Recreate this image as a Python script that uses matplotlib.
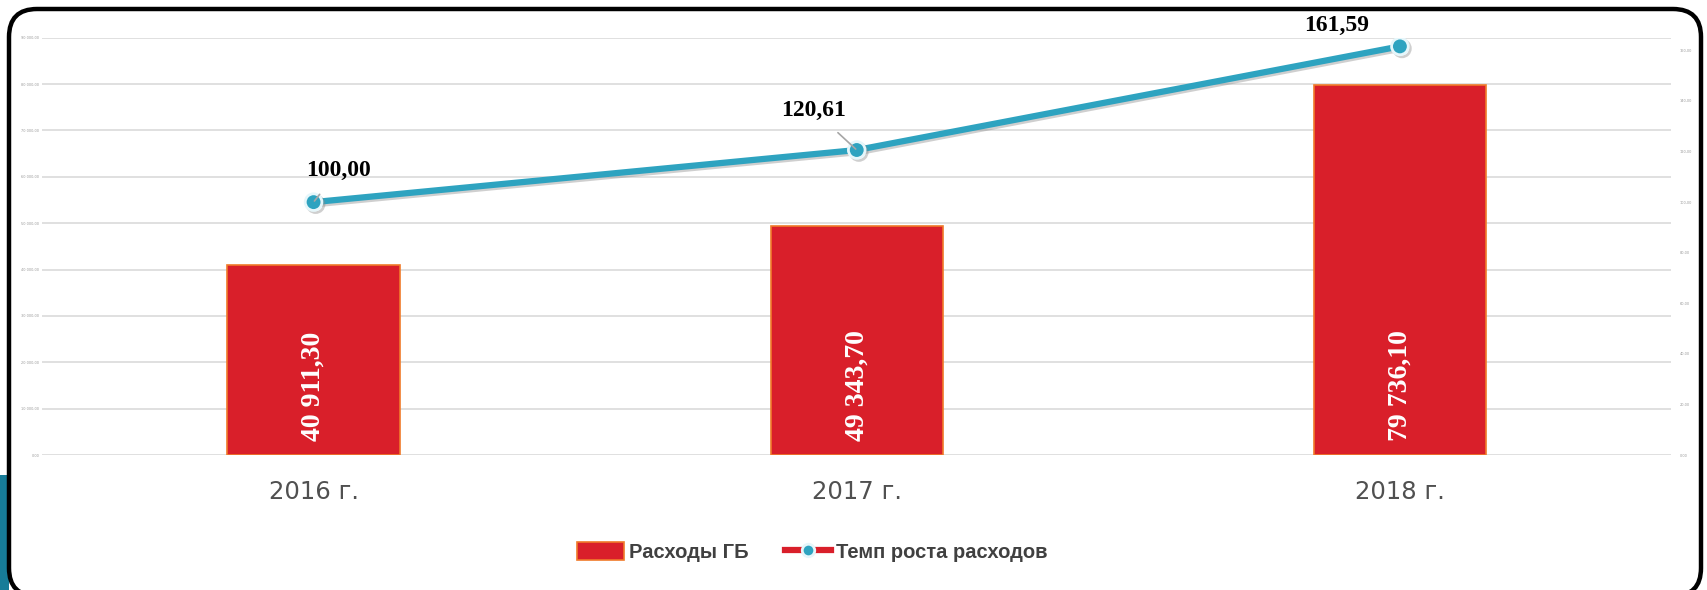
import numpy as np
import matplotlib
matplotlib.use("Agg")
import matplotlib.pyplot as plt
import matplotlib.patheffects as pe
from matplotlib.patches import FancyBboxPatch, Rectangle, Patch
from matplotlib.lines import Line2D
from matplotlib.transforms import IdentityTransform

## Data
years = ["2016 г.", "2017 г.", "2018 г."]
spend = [40911.30, 49343.70, 79736.10]      # Расходы ГБ
growth = [100.00, 120.61, 161.59]           # Темп роста расходов, %
left_ticks = np.arange(0, 90001, 10000)
right_ticks = np.arange(0, 161, 20)

bar_red = "#D91F2A"
bar_edge = "#F07A2A"
teal = "#2EA3C0"
grey_txt = "#404040"

def fmt(v):
    return f"{v:,.2f}".replace(",", " ").replace(".", ",")

fig = plt.figure(figsize=(17.07, 5.90), dpi=100)
ax = fig.add_axes([0.0246, 0.2288, 0.9546, 0.7072])
ax2 = ax.twinx()

x = np.arange(len(years))
ax.bar(x, spend, width=0.317, color=bar_red, edgecolor=bar_edge, linewidth=1.2, zorder=3)
ax.set_xlim(-0.5, len(years) - 0.5)
ax.set_ylim(0, 90000)
ax.set_yticks(left_ticks)
ax.set_yticklabels([fmt(v) for v in left_ticks], fontsize=2.5, color="#999999")
ax.tick_params(axis="y", length=0, pad=2)
ax.grid(axis="y", color="#DDDDDD", linewidth=1.3, zorder=0)
ax.set_axisbelow(True)
ax.set_xticks(x)
ax.set_xticklabels(years, fontsize=17.5, color="#505050", family="DejaVu Sans")
ax.tick_params(axis="x", length=0, pad=18)
for s in ax.spines.values():
    s.set_visible(False)

# values inside bars
for xi, v in zip(x, spend):
    ax.text(xi, 3000, fmt(v), rotation=90, ha="center", va="bottom",
            color="white", fontsize=20, fontweight="bold", family="Liberation Serif", zorder=4)

# growth line on right axis
shadow = [pe.SimpleLineShadow(offset=(1.5, -1.5), shadow_color="#888888", alpha=0.4), pe.Normal()]
ax2.plot(x, growth, color=teal, linewidth=4.5, marker="o", markersize=12,
         markerfacecolor=teal, markeredgecolor="#E6F6FA", markeredgewidth=2,
         path_effects=shadow, zorder=5)
ax2.set_ylim(0, 165)
ax2.set_yticks(right_ticks)
ax2.set_yticklabels([fmt(v) for v in right_ticks], fontsize=2.5, color="#999999")
ax2.tick_params(axis="y", length=0, pad=6)
for s in ax2.spines.values():
    s.set_visible(False)

# growth labels with leader lines
offsets = [(0.046, 32), (-0.08, 40), (-0.116, 21)]
for xi, g, (dx, dy) in zip(x, growth, offsets):
    ax2.annotate(fmt(g), xy=(xi, g), xytext=(xi + dx, g + dy * 165 / 417),
                 ha="center", va="center", fontsize=17, fontweight="bold",
                 family="Liberation Serif", color="black",
                 arrowprops=dict(arrowstyle="-", color="#A6A6A6", lw=1.2,
                                 shrinkA=10, shrinkB=1) if xi < 2 else None,
                 zorder=6)

# legend
handles = [Patch(facecolor=bar_red, edgecolor=bar_edge, linewidth=1.2),
           Line2D([0], [0], color=bar_red, linewidth=4.5, marker="o", markersize=9,
                  markerfacecolor=teal, markeredgecolor="#E6F6FA", markeredgewidth=2)]
fig.legend(handles, ["Расходы ГБ", "Темп роста расходов"], loc="center",
           bbox_to_anchor=(0.476, 0.064), ncol=2, frameon=False,
           prop=dict(size=14.5, weight="bold", family="Liberation Sans"),
           labelcolor=grey_txt, handlelength=2.3, handleheight=1.0,
           handletextpad=0.25, columnspacing=1.8)

# slide frame decoration
fig.add_artist(Rectangle((0, -5), 9, 120, transform=IdentityTransform(),
                         facecolor="#177C98", edgecolor="none", zorder=0))
fig.add_artist(FancyBboxPatch((9, -6), 1692, 587, boxstyle="round,pad=0,rounding_size=28",
                              transform=IdentityTransform(), facecolor="none",
                              edgecolor="black", linewidth=3.2, zorder=10))
fig.add_artist(FancyBboxPatch((11, -4), 1688, 583, boxstyle="round,pad=0,rounding_size=26",
                              transform=IdentityTransform(), facecolor="white",
                              edgecolor="none", zorder=-1))

fig.savefig("out.png", dpi=100)
